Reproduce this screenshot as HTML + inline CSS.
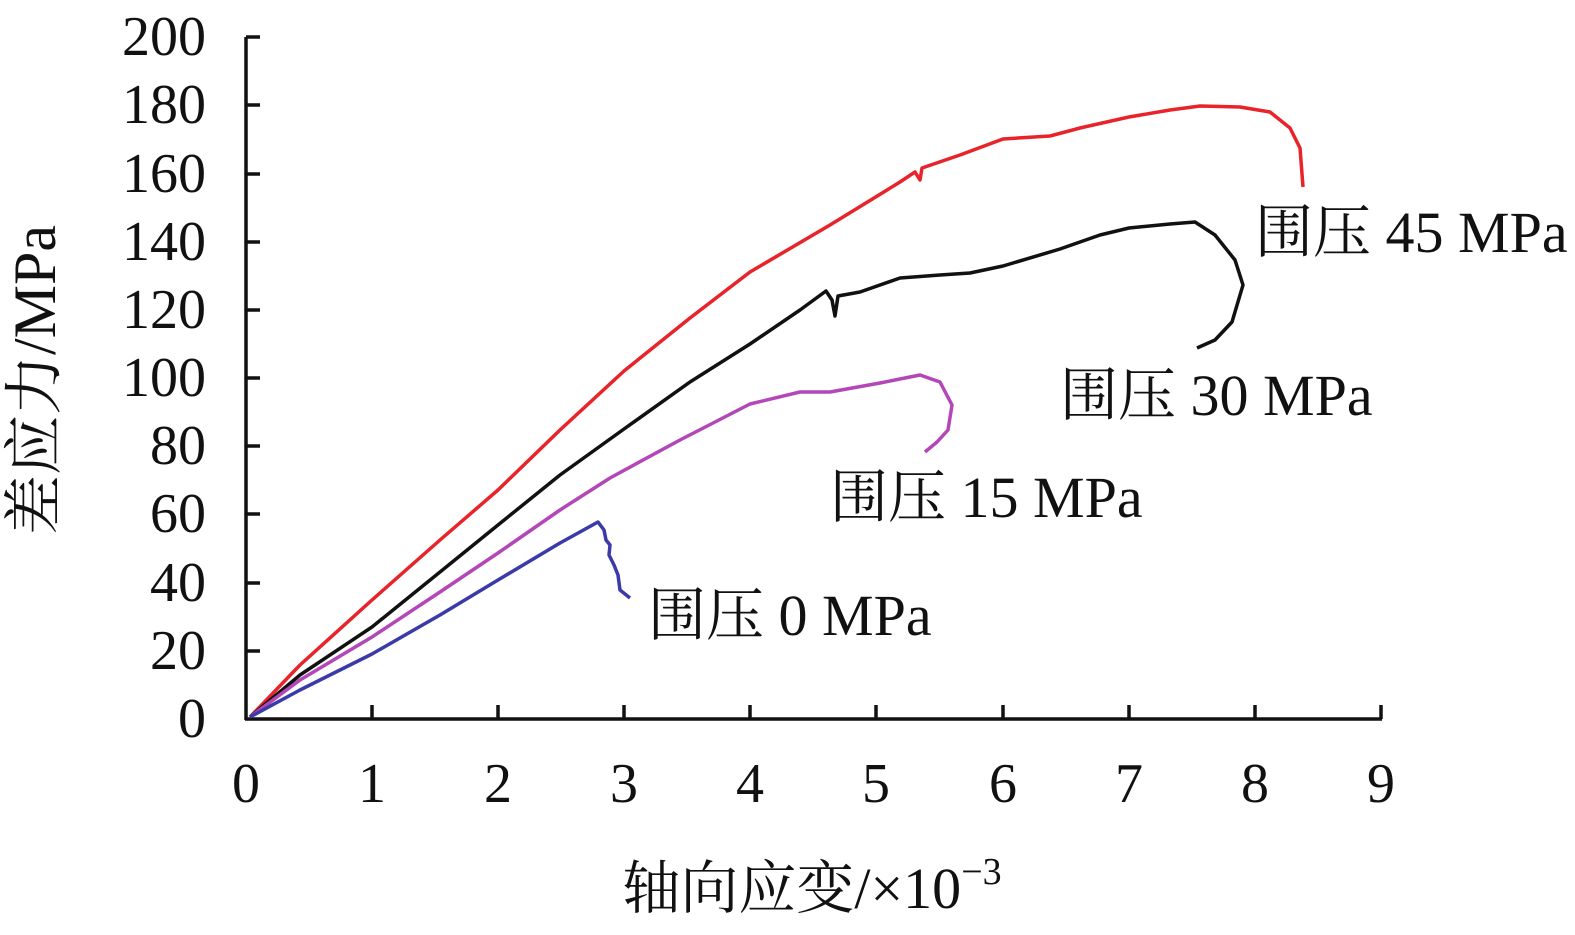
<!DOCTYPE html>
<html><head><meta charset="utf-8"><style>
html,body{margin:0;padding:0;background:#fff;}
svg{display:block;}
text{font-family:"Liberation Serif","Noto Serif CJK SC","Noto Sans CJK SC",serif;fill:#111;}
</style></head><body>
<svg width="1575" height="935" viewBox="0 0 1575 935" xmlns="http://www.w3.org/2000/svg">
<g stroke="#111" stroke-width="3.5" fill="none">
<line x1="246" y1="37" x2="246" y2="720"/>
<line x1="245" y1="719" x2="1382" y2="719"/>
<g>
<line x1="246" y1="37" x2="260" y2="37"/><line x1="246" y1="105" x2="260" y2="105"/><line x1="246" y1="174" x2="260" y2="174"/><line x1="246" y1="242" x2="260" y2="242"/><line x1="246" y1="310" x2="260" y2="310"/><line x1="246" y1="378" x2="260" y2="378"/><line x1="246" y1="446" x2="260" y2="446"/><line x1="246" y1="514" x2="260" y2="514"/><line x1="246" y1="583" x2="260" y2="583"/><line x1="246" y1="651" x2="260" y2="651"/>
<line x1="372" y1="719" x2="372" y2="705"/><line x1="498" y1="719" x2="498" y2="705"/><line x1="624" y1="719" x2="624" y2="705"/><line x1="750" y1="719" x2="750" y2="705"/><line x1="876" y1="719" x2="876" y2="705"/><line x1="1003" y1="719" x2="1003" y2="705"/><line x1="1129" y1="719" x2="1129" y2="705"/><line x1="1255" y1="719" x2="1255" y2="705"/><line x1="1381" y1="719" x2="1381" y2="705"/>
</g>
</g>
<g font-size="56" text-anchor="end">
<text x="206" y="55">200</text><text x="206" y="123">180</text><text x="206" y="192">160</text><text x="206" y="260">140</text><text x="206" y="328">120</text><text x="206" y="396">100</text><text x="206" y="464">80</text><text x="206" y="532">60</text><text x="206" y="601">40</text><text x="206" y="669">20</text><text x="206" y="737">0</text>
</g>
<g font-size="56" text-anchor="middle">
<text x="246" y="802">0</text><text x="372" y="802">1</text><text x="498" y="802">2</text><text x="624" y="802">3</text><text x="750" y="802">4</text><text x="876" y="802">5</text><text x="1003" y="802">6</text><text x="1129" y="802">7</text><text x="1255" y="802">8</text><text x="1381" y="802">9</text>
</g>
<g fill="none" stroke-width="3.5" stroke-linejoin="round">
<polyline stroke="#e8232a" points="250,717 300,665 372,600 440,540 498,490 560,430 624,371 690,318 750,272 830,225 900,182 915,172 920,180 922,168 960,155 1003,139 1050,136 1080,128 1129,117 1170,110 1200,106 1240,107 1270,112 1290,128 1300,148 1303,187"/>
<polyline stroke="#111" points="250,717 300,675 372,627 440,572 498,525 560,475 624,429 690,382 750,344 800,310 826,291 832,300 835,316 838,296 860,292 900,278 940,275 970,273 1003,266 1060,249 1100,235 1129,228 1170,224 1195,222 1215,235 1235,260 1243,285 1232,322 1215,340 1197,348"/>
<polyline stroke="#b347b8" points="250,717 300,680 372,637 440,592 498,553 560,510 610,478 680,440 750,404 800,392 830,392 880,383 920,375 940,382 952,405 948,430 937,442 925,452"/>
<polyline stroke="#3a3aa8" points="250,717 300,690 372,654 440,615 498,580 560,543 598,522 604,530 606,540 610,545 609,555 614,565 618,575 620,590 630,598"/>
</g>
<g font-size="58">
<text x="1255" y="252">围压 45 MPa</text>
<text x="1060" y="415">围压 30 MPa</text>
<text x="830" y="517">围压 15 MPa</text>
<text x="648" y="635">围压 0 MPa</text>
</g>
<text x="0" y="0" font-size="60" text-anchor="middle" transform="translate(55,380) rotate(-90)">差应力/MPa</text>
<text x="812" y="908" font-size="58" text-anchor="middle">轴向应变/×10<tspan dy="-24" font-size="38">−3</tspan></text>
</svg>
</body></html>
